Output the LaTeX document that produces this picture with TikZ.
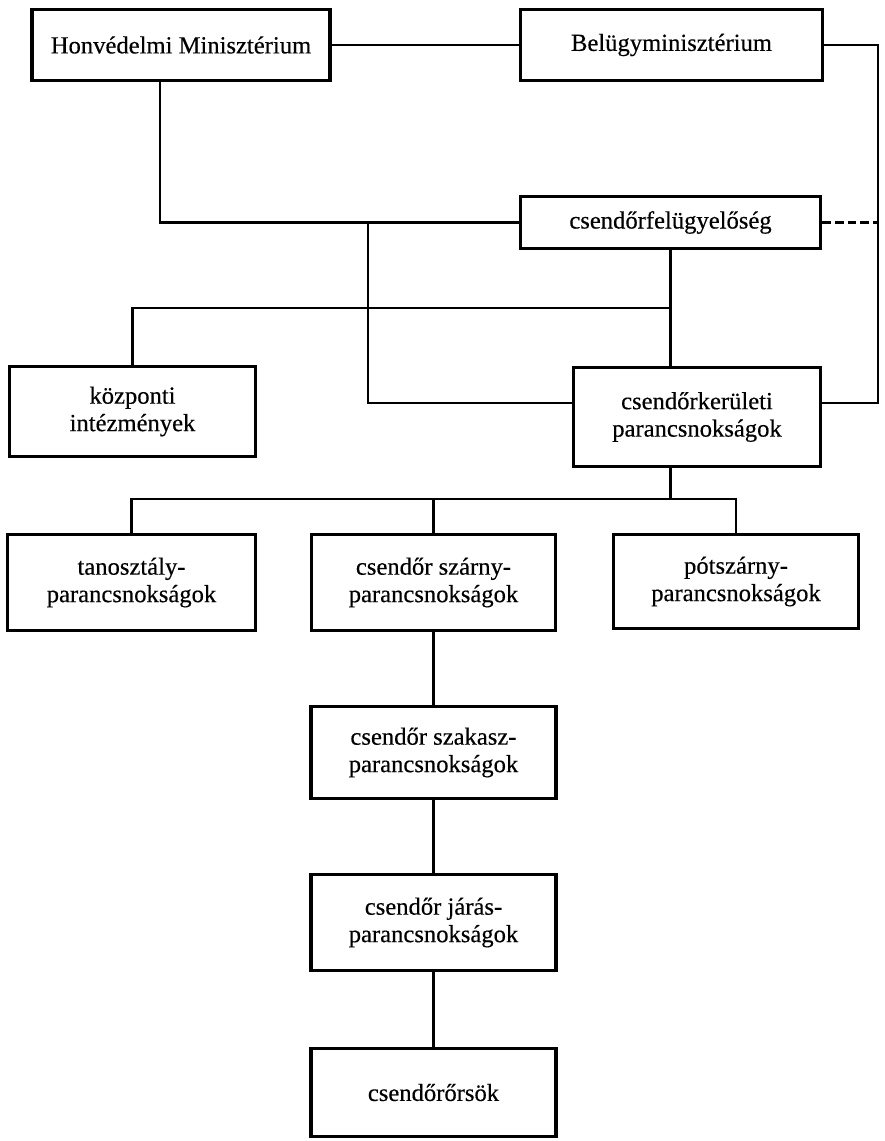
\documentclass[tikz,border=0pt]{standalone}
\usepackage{fontspec}
\setmainfont{Liberation Serif}
\newfontfamily\boxfont{Liberation Serif}[FakeBold=0.4]

\begin{document}
\begin{tikzpicture}[x=0.025cm,y=-0.025cm,
  box/.style={draw,line width=2.7pt,align=center,inner sep=2pt,font=\boxfont\fontsize{17.5}{19.5}\selectfont},
  link/.style={line width=1.5pt}]

  \useasboundingbox (0,0) rectangle (884,1141);

  \node[box,minimum width=7.45cm,minimum height=1.77cm] (hm) at (181,45) {Honvédelmi Minisztérium};
  \node[box,minimum width=7.55cm,minimum height=1.77cm] (bm) at (671.5,45) {Belügyminisztérium};
  \node[box,minimum width=7.5cm,minimum height=1.3cm] (felugy) at (670.5,222.5) {csendőrfelügyelőség};

  \node[box,minimum width=6.15cm,minimum height=2.25cm] (kozp) at (132.5,411.5) {központi\\intézmények};
  \node[box,minimum width=6.17cm,minimum height=2.47cm] (kerul) at (697,417) {csendőrkerületi\\parancsnokságok};

  \node[box,minimum width=6.2cm,minimum height=2.4cm] (tan) at (131.5,582.5) {tanosztály-\\parancsnokságok};
  \node[box,minimum width=6.1cm,minimum height=2.4cm] (szarny) at (433.5,582.5) {csendőr szárny-\\parancsnokságok};
  \node[box,minimum width=6.12cm,minimum height=2.35cm] (pot) at (736,581.5) {pótszárny-\\parancsnokságok};

  \node[box,minimum width=6.12cm,minimum height=2.3cm] (szakasz) at (433.5,752.5) {csendőr szakasz-\\parancsnokságok};
  \node[box,minimum width=6.12cm,minimum height=2.4cm] (jaras) at (433.5,922.5) {csendőr járás-\\parancsnokságok};
  \node[box,minimum width=6.12cm,minimum height=2.2cm] (ors) at (433.5,1092.5) {csendőrőrsök};

  \coordinate (rail) at (878,403);
  \coordinate (cross) at (368,222.5);
  \coordinate (tee) at (670.5,308);
  \coordinate (bus) at (670.5,499);

  \draw[link] (hm) -- (bm);
  \draw[link] (bm.east) -| (rail) -- (rail -| kerul.east);
  \draw[link,dash pattern=on 6pt off 3pt] (felugy.east) -- (felugy.east -| rail);
  \draw[link] ([xshift=-0.52cm]hm.south) |- (felugy.west);
  \draw[link] (cross) |- ([yshift=0.35cm]kerul.west);
  \draw[link] (felugy.south) -- (felugy.south |- kerul.north);
  \draw[link] (tee) -| (kozp.north);
  \draw[link] (kerul.south -| bus) -- (bus);
  \draw[link] (bus) -| (tan.north);
  \draw[link] (bus) -| (pot.north);
  \draw[link] (bus -| szarny.north) -- (szarny.north);
  \foreach \a/\b in {szarny/szakasz,szakasz/jaras,jaras/ors}
    \draw[link] (\a.south) -- (\b.north);

\end{tikzpicture}
\end{document}
